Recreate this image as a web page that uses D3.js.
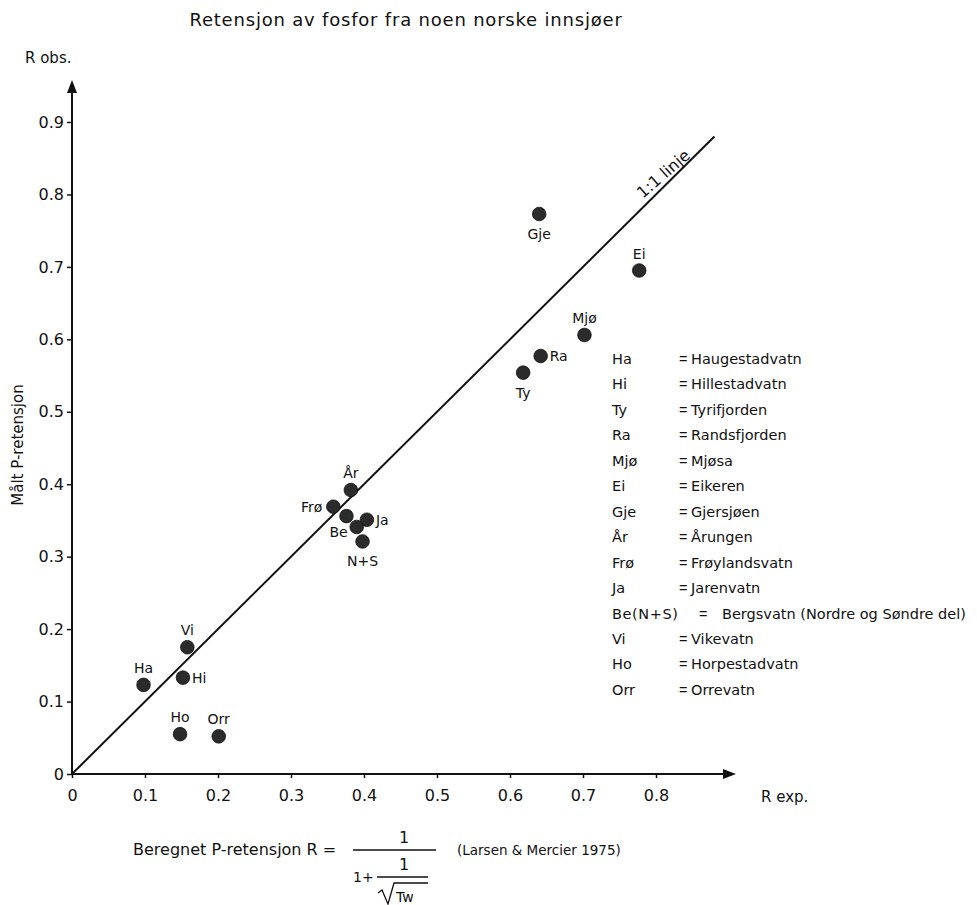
<!DOCTYPE html>
<html>
<head>
<meta charset="utf-8">
<script src="https://cdn.jsdelivr.net/npm/d3@7"></script>
<style>
  html, body { margin: 0; padding: 0; background: #fff; }
  svg { display: block; font-family: "DejaVu Sans", Verdana, sans-serif; }
</style>
</head>
<body>
<svg id="chart" width="977" height="905"></svg>
<script>
// ---- data ----
const codes = ["Ha", "Hi", "Ty", "Ra", "Mjø", "Ei", "Gje", "År", "Frø", "Ja", "Be", "N+S", "Vi", "Ho", "Orr", ""];
const rExp  = [0.098, 0.152, 0.618, 0.642, 0.702, 0.777, 0.640, 0.382, 0.358, 0.404, 0.390, 0.398, 0.158, 0.148, 0.201, 0.376];
const rObs  = [0.123, 0.133, 0.554, 0.577, 0.606, 0.695, 0.773, 0.392, 0.369, 0.351, 0.341, 0.321, 0.175, 0.055, 0.052, 0.356];

const xTicks = [0, 0.1, 0.2, 0.3, 0.4, 0.5, 0.6, 0.7, 0.8];
const yTicks = [0, 0.1, 0.2, 0.3, 0.4, 0.5, 0.6, 0.7, 0.8, 0.9];

const legendCodes = ["Ha", "Hi", "Ty", "Ra", "Mjø", "Ei", "Gje", "År", "Frø", "Ja", "Be(N+S)", "Vi", "Ho", "Orr"];
const legendNames = ["Haugestadvatn", "Hillestadvatn", "Tyrifjorden", "Randsfjorden", "Mjøsa", "Eikeren",
  "Gjersjøen", "Årungen", "Frøylandsvatn", "Jarenvatn", "Bergsvatn (Nordre og Søndre del)", "Vikevatn",
  "Horpestadvatn", "Orrevatn"];

const title = "Retensjon av fosfor fra noen norske innsjøer";
const yTitle = "Målt P-retensjon";
const lineLabel = "1:1 linje";
const lineEnd = 0.88;

// ---- label placement (style) ----
const labelPos = {
  "Ha": "above", "Hi": "right", "Ty": "below", "Ra": "right", "Mjø": "above", "Ei": "above",
  "Gje": "below", "År": "above", "Frø": "left", "Ja": "right", "Be": "leftlow", "N+S": "below",
  "Vi": "above", "Ho": "above", "Orr": "above"
};

// ---- drawing ----
const svg = d3.select("#chart");
const x = d3.scaleLinear().domain([0, 0.8]).range([72, 656]);
const y = d3.scaleLinear().domain([0, 0.9]).range([774, 122]);
const ink = "#111";
const FONT = "'DejaVu Sans', Verdana, sans-serif";
const NARROW = "'Liberation Sans', Arial, sans-serif";

// title
svg.append("text").attr("x", 406).attr("y", 26).attr("text-anchor", "middle")
  .attr("font-size", 18).attr("letter-spacing", 0.8).attr("fill", ink).text(title);

// axis arrow lines
const y0 = y(0), x0 = x(0);
const xEnd = 736, yEnd = 80;
svg.append("line").attr("x1", x0).attr("y1", y0).attr("x2", xEnd - 6).attr("y2", y0)
  .attr("stroke", ink).attr("stroke-width", 2);
svg.append("path").attr("d", `M${xEnd},${y0} L${xEnd - 13},${y0 - 5} L${xEnd - 13},${y0 + 5} Z`).attr("fill", ink);
svg.append("line").attr("x1", x0).attr("y1", y0).attr("x2", x0).attr("y2", yEnd + 6)
  .attr("stroke", ink).attr("stroke-width", 2);
svg.append("path").attr("d", `M${x0},${yEnd} L${x0 - 5},${yEnd + 13} L${x0 + 5},${yEnd + 13} Z`).attr("fill", ink);

const fmt = d => d === 0 ? "0" : d3.format(".1f")(d);

const gx = svg.append("g").attr("transform", `translate(0,${y0})`)
  .call(d3.axisBottom(x).tickValues(xTicks).tickFormat(fmt).tickSize(4).tickPadding(12));
gx.select(".domain").remove();
gx.selectAll(".tick line").attr("stroke", ink).attr("stroke-width", 1.5);
gx.selectAll(".tick text").attr("font-size", 16).attr("fill", ink).attr("font-family", FONT);

const gy = svg.append("g").attr("transform", `translate(${x0},0)`)
  .call(d3.axisLeft(y).tickValues(yTicks).tickFormat(fmt).tickSize(5).tickPadding(3));
gy.select(".domain").remove();
gy.selectAll(".tick line").attr("stroke", ink).attr("stroke-width", 1.5);
gy.selectAll(".tick text").attr("font-size", 16).attr("fill", ink).attr("font-family", FONT);

// axis labels
svg.append("text").attr("x", 25).attr("y", 63).attr("font-size", 15).attr("fill", ink).text("R obs.");
svg.append("text").attr("x", 761).attr("y", 802).attr("font-size", 15).attr("fill", ink).text("R exp.");
svg.append("text").attr("transform", `translate(23,445) rotate(-90)`).attr("text-anchor", "middle")
  .attr("font-size", 15).attr("fill", ink).text(yTitle);

// 1:1 line
svg.append("line").attr("x1", x(0)).attr("y1", y(0)).attr("x2", x(lineEnd)).attr("y2", y(lineEnd))
  .attr("stroke", ink).attr("stroke-width", 2);
svg.append("text")
  .attr("transform", `translate(667,178) rotate(-41)`)
  .attr("text-anchor", "middle").attr("font-size", 16).attr("fill", ink).text(lineLabel);

// points
const pts = codes.map((c, i) => ({ code: c, ex: rExp[i], ob: rObs[i] }));
svg.append("g").selectAll("circle").data(pts).join("circle")
  .attr("cx", d => x(d.ex)).attr("cy", d => y(d.ob)).attr("r", 6.8)
  .attr("fill", "#2b2b2b").attr("stroke", "#111").attr("stroke-width", 0.8);

// point labels
const off = {
  above: { dx: 0, dy: -12, a: "middle" },
  below: { dx: 0, dy: 25, a: "middle" },
  left: { dx: -11, dy: 5, a: "end" },
  leftlow: { dx: -9, dy: 10, a: "end" },
  right: { dx: 9, dy: 5, a: "start" }
};
svg.append("g").selectAll("text").data(pts.filter(d => d.code)).join("text")
  .attr("x", d => x(d.ex) + off[labelPos[d.code]].dx)
  .attr("y", d => y(d.ob) + off[labelPos[d.code]].dy)
  .attr("text-anchor", d => off[labelPos[d.code]].a)
  .attr("font-size", 14).attr("fill", ink).text(d => d.code);

// legend
const lg = svg.append("g").attr("font-size", 14.5).attr("fill", ink);
legendCodes.forEach((c, i) => {
  const yy = 364 + i * 25.45;
  const wide = c.length > 4;
  lg.append("text").attr("x", 612).attr("y", yy).attr("letter-spacing", wide ? 0.6 : 0).text(c);
  lg.append("text").attr("x", wide ? 699 : 679).attr("y", yy).attr("font-family", NARROW).text("=");
  lg.append("text").attr("x", wide ? 722 : 691).attr("y", yy).text(legendNames[i]);
});

// formula
const f = svg.append("g").attr("fill", ink).attr("font-size", 16);
f.append("text").attr("x", 133).attr("y", 855).text("Beregnet P-retensjon R =");
f.append("text").attr("x", 404).attr("y", 843).attr("text-anchor", "middle").text("1");
f.append("line").attr("x1", 353).attr("x2", 436).attr("y1", 850).attr("y2", 850).attr("stroke", ink).attr("stroke-width", 1.3);
f.append("text").attr("x", 353).attr("y", 882).attr("font-size", 14).text("1+");
f.append("text").attr("x", 404).attr("y", 870).attr("text-anchor", "middle").text("1");
f.append("line").attr("x1", 377).attr("x2", 428).attr("y1", 877).attr("y2", 877).attr("stroke", ink).attr("stroke-width", 1.3);
f.append("path").attr("d", "M378,893 L382,890 L388,904 L394,883 L428,883").attr("fill", "none")
  .attr("stroke", ink).attr("stroke-width", 1.3);
f.append("text").attr("x", 396).attr("y", 902).attr("font-size", 14).text("Tw");
f.append("text").attr("x", 457).attr("y", 855).attr("font-size", 13.5).text("(Larsen & Mercier 1975)");
</script>
</body>
</html>
